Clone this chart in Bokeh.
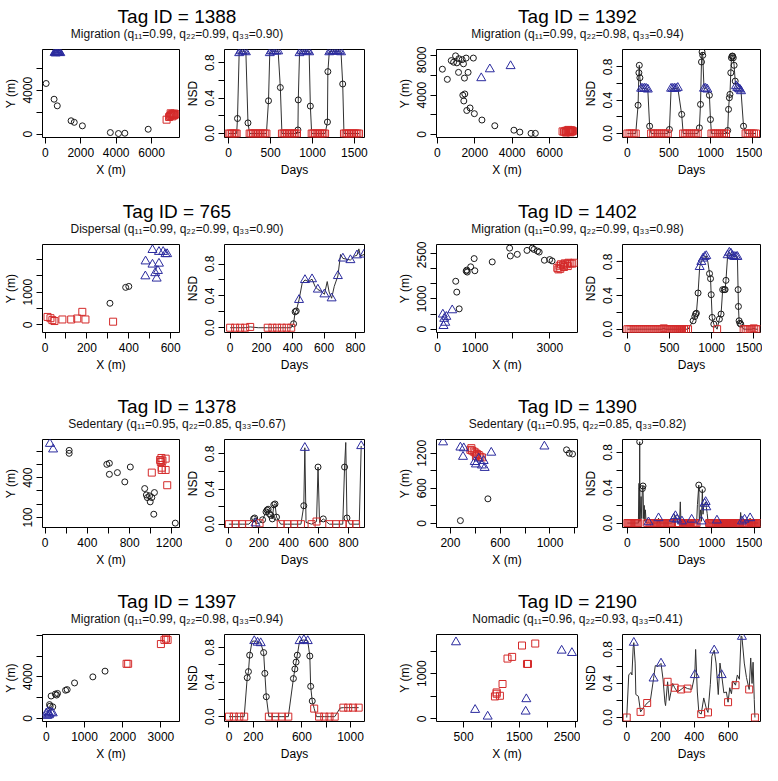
from bokeh.plotting import figure
from bokeh.layouts import column, row
from bokeh.models import Range1d, FixedTicker, NumeralTickFormatter
from bokeh.embed import file_html
from bokeh.resources import INLINE
from bokeh.core.properties import value

FONT = "Liberation Sans"
RED = "#d42a2a"
BLUE = "#2b2b9e"
INK = "#1a1a1a"
LINE = "#303030"

# ---------------- panel meta ----------------
TAGS = [1388, 1392, 765, 1402, 1378, 1390, 1397, 2190]
BEHAV = ["Migration", "Migration", "Dispersal", "Migration",
         "Sedentary", "Sedentary", "Migration", "Nomadic"]
Q11 = ["0.99", "0.99", "0.99", "0.99", "0.95", "0.95", "0.99", "0.96"]
Q22 = ["0.99", "0.98", "0.99", "0.99", "0.85", "0.85", "0.98", "0.93"]
Q33 = ["0.90", "0.94", "0.90", "0.98", "0.67", "0.82", "0.94", "0.41"]

# ---------------- location scatter data (x, y, class) ----------------
# class: c = intermediate (circle), s = cluster 1 (red square), t = cluster 2 (blue triangle)
LOC_X_1388 = [40, 490, 670, 1450, 1630, 2090, 3670, 4130, 4490, 5810,
              520, 560, 600, 630, 660, 690, 720, 760, 800, 840, 580, 700,
              6850, 6990, 7040, 7090, 7130, 7180, 7220, 7260, 7300, 7350, 7080, 7170, 7280]
LOC_Y_1388 = [4610, 3180, 2580, 1220, 1080, 760, 150, 60, 90, 450,
              7400, 7450, 7480, 7420, 7500, 7450, 7400, 7470, 7430, 7380, 7350, 7520,
              1320, 1560, 1650, 1720, 1800, 1850, 1780, 1700, 1750, 1820, 1900, 1620, 1880]
LOC_C_1388 = ["c"] * 10 + ["t"] * 12 + ["s"] * 13

LOC_X_1392 = [265, 530, 741, 865, 971, 1041, 1147, 1130, 1324, 1394, 1447, 1536, 1641, 1924,
              1359, 1465, 1412, 1571, 1747, 1977, 2383, 3071, 4095, 4413, 5013, 5242,
              2347, 2806, 3918,
              6700, 6780, 6850, 6900, 6950, 7000, 7050, 7100, 7150, 7200, 7250, 6880, 7020, 7120, 7220]
LOC_Y_1392 = [6636, 5600, 7510, 7348, 7995, 7283, 7704, 6312, 7607, 7186, 5729, 7769, 6312, 7769,
              3982, 4111, 3399, 2428, 2687, 2104, 1457, 874, 421, 227, 97, 97,
              5729, 6636, 6960,
              300, 260, 350, 220, 400, 300, 250, 350, 420, 280, 330, 180, 450, 200, 380]
LOC_C_1392 = ["c"] * 26 + ["t"] * 3 + ["s"] * 15

LOC_X_765 = [12, 26, 35, 45, 83, 125, 154, 178, 193, 325,
             310, 385, 400,
             480, 513, 544, 564, 575, 583, 479, 513, 544, 539, 526, 533]
LOC_Y_765 = [243, 204, 146, 117, 165, 165, 194, 398, 165, 97,
             660, 1146, 1175,
             1942, 2291, 2233, 2233, 2165, 2165, 1486, 1845, 1874, 1651, 1583, 1418]
LOC_C_765 = ["s"] * 10 + ["c"] * 3 + ["t"] * 12

LOC_X_1402 = [140, 177, 205, 158, 391, 233,
              577, 512, 484, 763, 791, 781, 884, 995, 977, 1460, 1925, 1944, 2130, 2390,
              2530, 2576, 2669, 2716, 2855, 2995, 3060,
              3200, 3260, 3300, 3350, 3400, 3450, 3500, 3550, 3600, 3650, 3280, 3380, 3480, 3230]
LOC_Y_1402 = [489, 348, 217, 109, 630, 413,
              674, 1228, 1587, 1924, 1891, 1957, 2065, 1935, 2337, 2228, 2685, 2424, 2478, 2609,
              2685, 2641, 2587, 2554, 2283, 2304, 2261,
              2030, 2100, 2150, 2120, 2180, 2150, 2200, 2180, 2170, 2200, 2000, 2060, 2090, 1980]
LOC_C_1402 = ["t"] * 6 + ["c"] * 21 + ["s"] * 14

LOC_X_1378 = [228, 228, 584, 608, 608, 684, 806, 754, 942, 967, 988, 958, 994, 1034, 1028, 1231, 1009,
              46, 76,
              1088, 1100, 1110, 1094, 1140, 1103, 1103, 1140, 1009, 1155]
LOC_Y_1378 = [605, 583, 500, 508, 425, 438, 480, 368, 318, 250, 263, 270, 218, 288, 125, 58, 250,
              655, 613,
              533, 548, 528, 518, 543, 475, 458, 458, 438, 343]
LOC_C_1378 = ["c"] * 17 + ["t"] * 2 + ["s"] * 10

LOC_X_1390 = [141, 280, 307, 301, 395, 405, 453, 475, 528, 955, 427, 467,
              360, 373, 387, 400, 413, 427, 440, 453, 368, 405,
              1133, 1155, 1181, 501, 280]
LOC_Y_1390 = [1389, 1300, 1288, 1141, 1052, 1011, 993, 951, 1212, 1318, 1111, 1070,
              1259, 1247, 1229, 1212, 1188, 1170, 1141, 1129, 1288, 1152,
              1259, 1200, 1188, 420, 47]
LOC_C_1390 = ["t"] * 12 + ["s"] * 10 + ["c"] * 5

LOC_X_1397 = [0, 42, 84, 126, 67, 168, 25,
              84, 101, 168, 126, 235, 294, 269, 504, 546, 739, 1218, 1537,
              2100, 2142, 2999, 3091, 3175, 3133]
LOC_Y_1397 = [492, 615, 400, 554, 308, 492, 246,
              1323, 1169, 1108, 2154, 2338, 2400, 2246, 2708, 2769, 3415, 4000, 4554,
              5262, 5262, 7169, 7569, 7569, 7692]
LOC_C_1397 = ["t"] * 7 + ["c"] * 12 + ["s"] * 6

LOC_X_2190 = [364, 707, 932, 1624, 1612, 2257, 2441,
              1547, 1784, 1287, 1370, 1636, 1654, 1198, 1092, 1062, 1092, 1151]
LOC_Y_2190 = [1697, 200, 52, 437, 163, 1512, 1460,
              1623, 1667, 1334, 1371, 1215, 1215, 771, 585, 496, 556, 511]
LOC_C_2190 = ["t"] * 7 + ["s"] * 11

# ---------------- NSD time series (day, nsd, class; "" = line only) ----------------
NSD_D_1388 = [0, 20, 40, 60, 80, 95, 105, 125, 145, 165, 185, 205, 230,
              250, 270, 290, 310, 330, 350, 370, 390, 410, 430, 450, 475,
              490, 510, 530, 550, 570, 590, 616,
              635, 655, 675, 695, 715, 735, 755, 775, 795, 815, 826, 830,
              845, 865, 885, 905, 925, 945, 960, 974,
              990, 1010, 1030, 1050, 1070, 1090, 1110, 1130, 1150, 1178, 1183,
              1200, 1220, 1240, 1260, 1280, 1300, 1320, 1340, 1360,
              1375, 1395, 1415, 1435, 1455, 1475, 1495, 1515, 1535, 1555]
NSD_V_1388 = [0, 0, 0, 0, 0, 0, 0.17, 0.91, 0.93, 0.93, 0.93, 0.92, 0.12,
              0, 0, 0, 0, 0, 0, 0, 0, 0, 0, 0, 0.37,
              0.91, 0.93, 0.93, 0.93, 0.93, 0.93, 0.52,
              0, 0, 0, 0, 0, 0, 0, 0, 0, 0, 0.04, 0.38,
              0.91, 0.93, 0.93, 0.93, 0.93, 0.93, 0.92, 0.31,
              0, 0, 0, 0, 0, 0, 0, 0, 0, 0.13, 0.70,
              0.92, 0.93, 0.93, 0.93, 0.93, 0.93, 0.93, 0.92, 0.56,
              0, 0, 0, 0, 0, 0, 0, 0, 0, 0]
NSD_C_1388 = (["s"] * 6 + ["c"] + ["t"] * 5 + ["c"] + ["s"] * 11 + ["c"] + ["t"] * 6 + ["c"]
              + ["s"] * 10 + ["c"] * 2 + ["t"] * 7 + ["c"] + ["s"] * 9 + ["c"] * 2
              + ["t"] * 8 + ["c"] + ["s"] * 10)

NSD_D_1392 = [0, 25, 50, 75, 100, 128, 138, 143, 150,
              165, 185, 205, 225, 245, 267,
              285, 310, 335, 360, 385, 410, 435, 460, 485, 505,
              525, 545, 565, 585, 605, 652,
              670, 695, 720, 745, 770, 795, 820, 845,
              865, 878, 890, 897, 905, 920, 940, 960, 985, 998,
              1010, 1035, 1060, 1085, 1110, 1135, 1160, 1185,
              1205, 1215, 1225, 1232, 1242, 1250, 1258, 1265, 1272, 1282, 1295,
              1305, 1320, 1335, 1350, 1365, 1395,
              1420, 1445, 1470, 1495, 1520, 1545]
NSD_V_1392 = [0, 0, 0, 0, 0, 0.34, 0.73, 0.82, 0.67,
              0.54, 0.54, 0.54, 0.54, 0.53, 0.088,
              0, 0, 0, 0, 0, 0, 0, 0, 0, 0.048,
              0.54, 0.54, 0.54, 0.54, 0.55, 0.23,
              0, 0, 0, 0, 0, 0, 0, 0,
              0.068, 0.35, 0.86, 0.98, 0.94, 0.54, 0.54, 0.53, 0.46, 0.168,
              0, 0, 0, 0, 0, 0, 0, 0,
              0.036, 0.29, 0.43, 0.47, 0.73, 0.91, 0.93, 0.93, 0.91, 0.82, 0.63,
              0.57, 0.55, 0.54, 0.53, 0.51, 0.088,
              0, 0, 0, 0, 0, 0]
NSD_C_1392 = (["s"] * 5 + ["c"] * 4 + ["t"] * 5 + ["c"] + ["s"] * 9 + ["c"] + ["t"] * 5 + ["c"]
              + ["s"] * 8 + ["c"] * 5 + ["t"] * 3 + ["c"] * 2 + ["s"] * 8 + ["c"] * 11
              + ["t"] * 5 + ["c"] + ["s"] * 6)

NSD_D_765 = [0, 32, 64, 96, 128, 180, 240, 270, 300, 330, 360, 390,
             405, 415, 422, 440, 460, 478, 500, 523, 542, 560, 580, 602, 620, 632,
             648, 665, 688, 705, 720, 745, 768, 795, 810, 822, 832, 855]
NSD_V_765 = [0, 0, 0, 0, 0.01, 0, 0, 0, 0, 0, 0, 0,
             0.05, 0.2, 0.21, 0.35, 0.56, 0.6, 0.58, 0.61, 0.52, 0.48, 0.46, 0.42, 0.58, 0.45,
             0.37, 0.52, 0.65, 0.92, 0.87, 0.86, 0.85, 0.9, 0.91, 0.99, 0.9, 0.92]
NSD_C_765 = (["s"] * 5 + [""] + ["s"] * 6 + ["c"] * 3
             + ["t", "", "t", "", "t", "", "t", "", "t", "", "", "t", "", "t", "", "t", "", "t", "", "t", "", "", "t"])

NSD_D_1402 = [0, 24, 48, 72, 96, 120, 144, 168, 192, 216, 240, 264, 288, 312, 336, 360,
              384, 408, 432, 456, 480, 504, 528, 552, 576, 600, 624, 648, 672, 696, 720,
              780, 800, 810, 819, 839, 858, 878, 897, 918, 936, 955,
              975, 987, 995, 1006, 1026, 1065,
              1092, 1112, 1131, 1150, 1160, 1170,
              1190, 1210, 1228, 1248, 1268, 1290, 1306,
              1314, 1318, 1326, 1336, 1346,
              1380, 1404, 1428, 1452, 1476, 1500, 1524, 1548]
NSD_V_1402 = [0, 0, 0, 0, 0, 0, 0, 0, 0, 0, 0, 0, 0, 0, 0, 0,
              0, 0, 0.01, 0, 0, 0, 0, 0, 0, 0, 0, 0, 0, 0, 0,
              0.1, 0.15, 0.18, 0.19, 0.43, 0.74, 0.8, 0.84, 0.86, 0.87, 0.8,
              0.66, 0.6, 0.41, 0.14, 0.06, 0,
              0.12, 0.18, 0.47, 0.47, 0.47, 0.58,
              0.88, 0.91, 0.9, 0.87, 0.86, 0.86, 0.86,
              0.47, 0.27, 0.1, 0.07, 0.06,
              0, 0, 0, 0, 0, 0.01, 0, 0]
NSD_C_1402 = (["s"] * 31 + ["c"] * 5 + ["t"] * 5 + [""] + ["c"] * 5 + ["s"] + ["c"] * 6
              + ["t"] * 7 + ["c"] * 5 + ["s"] * 8)

NSD_D_1378 = [0, 45, 89, 134, 165, 172, 178, 205, 225, 248, 255, 262, 270, 280, 290, 300, 308, 318,
              346, 391, 436, 481, 500, 507, 515, 552, 585, 595, 605, 630,
              670, 715, 760, 772, 780, 788, 805, 849, 870, 883]
NSD_V_1378 = [0, 0, 0, 0, 0.06, 0.07, 0.01, 0.01, 0.05, 0.14, 0.16, 0.17, 0.12, 0.1, 0.06, 0.22, 0.23, 0.08,
              0, 0, 0, 0, 0.21, 0.87, 0.02, 0, 0.03, 0.65, 0.02, 0.06,
              0, 0, 0, 0.65, 0.93, 0.07, 0, 0, 0, 0.89]
NSD_C_1378 = (["s"] * 4 + ["c"] * 2 + ["t"] + ["s"] + ["c"] * 10 + ["s"] * 4
              + ["c", "t", "", "s", "s", "c", "", "c"] + ["s"] * 3 + ["c", "", "c"] + ["s"] * 2 + ["", "t"])

NSD_D_1390 = ([0, 12, 24, 36, 48, 60, 72, 84, 96, 108, 120, 130]
              + [138, 141, 146, 150, 162, 170, 177, 185, 192, 200, 206, 213, 222]
              + [235, 250, 262, 274, 286, 298, 310, 322, 334, 346, 357, 369]
              + [381, 393, 405, 417, 429, 441, 453, 465, 477, 489, 501, 513, 525]
              + [540, 550, 560, 569, 578, 588, 600, 612, 618, 627, 634, 646]
              + [658, 670, 682, 694, 706, 718, 730, 742, 752, 761, 772, 784, 796, 808, 820]
              + [830, 846, 852, 866, 877, 888, 896, 905, 915, 927, 935, 945, 955]
              + [968, 980, 992, 1004, 1016, 1028, 1040, 1052, 1061]
              + [1072, 1084, 1096, 1108, 1120, 1132, 1144, 1156, 1168, 1180, 1192, 1204,
                 1216, 1228, 1240, 1252, 1264, 1276, 1288, 1300, 1312, 1324, 1334]
              + [1342, 1350, 1357, 1366, 1377, 1388, 1398, 1410, 1422, 1434, 1444, 1454,
                 1465, 1477, 1489, 1501, 1513, 1525, 1537, 1550])
NSD_V_1390 = ([0] * 12
              + [0.45, 0.02, 0.92, 0.02, 0.3, 0.05, 0.39, 0.42, 0.05, 0.2, 0.02, 0.15, 0.01]
              + [0, 0.01, 0, 0, 0, 0, 0, 0, 0, 0, 0, 0.056]
              + [0] * 13
              + [0.03, 0.05, 0.09, 0.08, 0.03, 0.04, 0, 0, 0.02, 0.24, 0.02, 0.02]
              + [0, 0, 0, 0, 0, 0, 0, 0, 0, 0.04, 0, 0, 0, 0, 0]
              + [0.21, 0.43, 0.03, 0.15, 0.02, 0.38, 0.1, 0.2, 0.22, 0.24, 0.18, 0.11, 0.02]
              + [0, 0, 0, 0, 0, 0, 0, 0, 0.03]
              + [0] * 23
              + [0.12, 0.02, 0.02, 0, 0, 0.04, 0, 0, 0, 0, 0, 0.056, 0, 0, 0, 0, 0, 0, 0, 0])
NSD_C_1390 = (["s"] * 12
              + ["", "", "c", "", "", "", "c", "c", "", "", "", "", ""]
              + ["s", "t", "s", "s", "s", "s", "s", "s", "s", "s", "s", "t"]
              + ["s"] * 13
              + ["", "t", "", "t", "", "t", "s", "s", "", "", "", "t"]
              + ["s"] * 9 + ["t"] + ["s"] * 5
              + ["", "c", "", "", "t", "c", "", "", "t", "t", "t", "", ""]
              + ["s"] * 8 + ["t"]
              + ["s"] * 23
              + ["", "", "t", "s", "s", "t", "s", "s", "s", "s", "s", "t", "s", "s", "s", "s", "s", "s", "s", "s"])

NSD_D_1397 = [0, 40, 85, 125, 150, 160, 170, 190, 208, 235, 261, 285, 295, 307,
              328, 381, 435, 488, 530, 542, 552, 562, 581, 616, 648, 665, 672, 685,
              701, 720, 741, 784, 827, 870, 915, 941, 981, 1021, 1067]
NSD_V_1397 = [0, 0, 0, 0, 0.45, 0.52, 0.71, 0.87, 0.874, 0.856, 0.85, 0.74, 0.5, 0.23,
              0, 0, 0, 0, 0.44, 0.55, 0.63, 0.71, 0.874, 0.886, 0.874, 0.7, 0.35, 0.18,
              0.093, 0, 0, 0, 0, 0, 0.1, 0.104, 0.104, 0.104, 0.104]
NSD_C_1397 = (["s"] * 4 + ["c"] * 3 + [""] + ["t"] * 3 + ["c"] * 3 + ["s"] * 4 + ["c"] * 4
              + ["t"] * 3 + ["c"] * 3 + ["s", ""] + ["s"] * 4 + [""] + ["s"] * 4)

NSD_D_2190 = [0, 12, 25, 31, 38, 42, 50, 54, 69, 82, 100, 121, 140, 159, 169, 185, 203, 215, 226, 230,
              242, 252, 261, 272, 284, 300, 322, 340, 360, 385, 403, 408, 418, 427, 441, 456, 472, 481,
              495, 504, 518, 529, 542, 552, 562, 575, 590, 600, 610, 620, 629, 644, 655, 667, 677, 682,
              696, 709, 725, 734, 742, 748, 755, 759]
NSD_V_2190 = [0, 0.5, 0.53, 0.5, 0.82, 0.88, 0.64, 0.27, 0.25, 0.066, 0.12, 0.17, 0.2, 0.46, 0.61, 0.6,
              0.636, 0.45, 0.18, 0.14,
              0.42, 0.2, 0.29, 0.4, 0.35, 0.3, 0.33, 0.36, 0.34, 0.33, 0.5, 0.8, 0.3, 0.06, 0.04, 0.23,
              0.1, 0.06,
              0.39, 0.72, 0.79, 0.64, 0.27, 0.64, 0.5, 0.29, 0.3, 0.18, 0.35, 0.28, 0.43, 0.38, 0.5, 0.45,
              0.96, 0.95,
              0.64, 0.47, 0.33, 0.7, 0.4, 0.65, 0.21, 0]
NSD_C_2190 = (["s", "", "", "", "", "t", "", "", "", "s", "", "s", "", "t", "", "", "t", "", "", ""]
              + ["s", "", "", "", "s", "", "s", "", "s", "", "t", "", "", "", "s", "", "", "s"]
              + ["", "", "t", "", "", "", "t", "", "", "s", "", "", "", "s", "", "", "", "t"]
              + ["", "", "s", "", "", "", "", "s"])

# ---------------- axes: limits and ticks (labelled / unlabelled) ----------------
LOC_XLIM = [(-165, 7580), (-50, 7500), (-12, 642), (-30, 3740),
            (-24, 1271), (88, 1221), (-100, 3486), (15, 2541)]
LOC_YLIM = [(-300, 7700), (-324, 8643), (-233, 2456), (-109, 2804),
            (25, 687), (-71, 1436), (-308, 8092), (-59, 1867)]
LOC_XT = [[0, 2000, 4000, 6000], [0, 2000, 4000, 6000], [0, 200, 400, 600], [0, 1000, 3000],
          [0, 400, 800, 1200], [200, 600, 1000], [0, 1000, 2000, 3000], [500, 1500, 2500]]
LOC_XM = [[], [], [100, 300, 500], [2000], [200, 600, 1000], [400, 800, 1200], [], [1000, 2000]]
LOC_YT = [[0, 4000], [0, 4000, 8000], [0, 1000], [0, 1000, 2500],
          [100, 400], [0, 600, 1200], [0, 4000], [0, 1000]]
LOC_YM = [[2000, 6000], [2000, 6000], [500, 1500, 2000], [500, 1500, 2000],
          [200, 300, 500, 600], [300, 900], [2000, 6000, 8000], [500, 1500]]

NSD_XLIM = [(-50, 1620), (-59, 1599), (-36, 858), (-58, 1580),
            (-29, 905), (-58, 1577), (-37, 1115), (-25, 792)]
NSD_YLIM = [(-0.045, 0.95), (-0.048, 1.01), (-0.06, 1.045), (-0.039, 1.006),
            (-0.038, 0.964), (-0.05, 0.946), (-0.056, 0.949), (-0.047, 0.976)]
NSD_XT = [[0, 500, 1000, 1500], [0, 500, 1000, 1500], [0, 200, 400, 600, 800], [0, 500, 1000, 1500],
          [0, 200, 400, 600, 800], [0, 500, 1000, 1500], [0, 200, 600, 1000], [0, 200, 400, 600]]
NSD_XM = [[], [], [], [], [], [], [400, 800], []]
NSD_YT = [0, 0.4, 0.8]
NSD_YM = [0.2, 0.6]

LOC = [(LOC_X_1388, LOC_Y_1388, LOC_C_1388), (LOC_X_1392, LOC_Y_1392, LOC_C_1392),
       (LOC_X_765, LOC_Y_765, LOC_C_765), (LOC_X_1402, LOC_Y_1402, LOC_C_1402),
       (LOC_X_1378, LOC_Y_1378, LOC_C_1378), (LOC_X_1390, LOC_Y_1390, LOC_C_1390),
       (LOC_X_1397, LOC_Y_1397, LOC_C_1397), (LOC_X_2190, LOC_Y_2190, LOC_C_2190)]
NSD = [(NSD_D_1388, NSD_V_1388, NSD_C_1388), (NSD_D_1392, NSD_V_1392, NSD_C_1392),
       (NSD_D_765, NSD_V_765, NSD_C_765), (NSD_D_1402, NSD_V_1402, NSD_C_1402),
       (NSD_D_1378, NSD_V_1378, NSD_C_1378), (NSD_D_1390, NSD_V_1390, NSD_C_1390),
       (NSD_D_1397, NSD_V_1397, NSD_C_1397), (NSD_D_2190, NSD_V_2190, NSD_C_2190)]

# ---------------- layout geometry ----------------
COL_W = [182, 202, 196, 182]
COL_BL = [39, 40, 52, 40]
COL_BR = [3, 20, 3, 2]
TITLE_H = [46, 46, 46, 46]
PLOT_BB = [58, 58, 58, 41]
FRAME_H = 88
TITLE_CX = [184.5, 585]

STYLE = {
    "c": dict(marker="circle", size=6, line_color=INK),
    "s": dict(marker="square", size=7, line_color=RED),
    "t": dict(marker="triangle", size=9, line_color=BLUE),
}


def style_axis(ax, major, minor, label):
    ax.ticker = FixedTicker(ticks=major, minor_ticks=minor)
    ax.axis_line_color = None
    ax.major_tick_in = 0
    ax.major_tick_out = 6
    ax.minor_tick_in = 0
    ax.minor_tick_out = 6
    ax.major_tick_line_color = "black"
    ax.minor_tick_line_color = "black"
    ax.major_label_text_font = FONT
    ax.major_label_text_font_size = "12px"
    ax.major_label_text_color = "black"
    ax.major_label_standoff = 4
    ax.axis_label = label
    ax.axis_label_text_font = FONT
    ax.axis_label_text_font_size = "12px"
    ax.axis_label_text_font_style = "normal"
    ax.axis_label_text_color = "black"
    ax.axis_label_standoff = 3


def base_fig(col, rowi, xr, yr):
    p = figure(width=COL_W[col], height=3 + FRAME_H + PLOT_BB[rowi],
               x_range=Range1d(*xr), y_range=Range1d(*yr),
               toolbar_location=None, tools="", output_backend="svg",
               min_border_left=COL_BL[col], min_border_right=COL_BR[col],
               min_border_top=3, min_border_bottom=PLOT_BB[rowi])
    p.grid.visible = False
    p.outline_line_color = "black"
    p.outline_line_width = 1
    p.outline_line_alpha = 1
    p.background_fill_color = "white"
    p.border_fill_color = "white"
    p.yaxis.major_label_orientation = "vertical"
    return p


def add_markers(p, xs, ys, cs):
    for key in ["c", "s", "t"]:
        sx = [x for x, c in zip(xs, cs) if c == key]
        sy = [y for y, c in zip(ys, cs) if c == key]
        if sx:
            st = STYLE[key]
            p.scatter(sx, sy, marker=st["marker"], size=st["size"], fill_color=None,
                      line_color=st["line_color"], line_width=1)


blocks = []
for r in range(4):
    tf = figure(width=762, height=TITLE_H[r], x_range=Range1d(8, 770), y_range=Range1d(0, TITLE_H[r]),
                toolbar_location=None, tools="", output_backend="svg", min_border=0,
                x_axis_location=None, y_axis_location=None, outline_line_color=None)
    tf.grid.visible = False
    idx = [2 * r, 2 * r + 1]
    tf.text(x=TITLE_CX, y=[30, 30],
            text=["Tag ID = %d" % TAGS[i] for i in idx],
            text_font=value(FONT), text_font_size="19px", text_align="center",
            text_baseline="alphabetic", text_color="black")
    tf.text(x=TITLE_CX, y=[13, 13],
            text=["%s (q\u2081\u2081=%s, q\u2082\u2082=%s, q\u2083\u2083=%s)" % (BEHAV[i], Q11[i], Q22[i], Q33[i])
                  for i in idx],
            text_font=value(FONT), text_font_size="12px", text_align="center",
            text_baseline="alphabetic", text_color="#111111")
    blocks.append(tf)

    figs = []
    for k, i in enumerate(idx):
        # location panel
        pl = base_fig(2 * k, r, LOC_XLIM[i], LOC_YLIM[i])
        style_axis(pl.xaxis[0], LOC_XT[i], LOC_XM[i], "X (m)")
        style_axis(pl.yaxis[0], LOC_YT[i], LOC_YM[i], "Y (m)")
        xs, ys, cs = LOC[i]
        add_markers(pl, xs, ys, cs)
        figs.append(pl)
        # NSD panel
        pn = base_fig(2 * k + 1, r, NSD_XLIM[i], NSD_YLIM[i])
        style_axis(pn.xaxis[0], NSD_XT[i], NSD_XM[i], "Days")
        style_axis(pn.yaxis[0], NSD_YT, NSD_YM, "NSD")
        pn.yaxis[0].formatter = NumeralTickFormatter(format="0.0")
        ds, vs, cs = NSD[i]
        pn.line(ds, vs, line_color=LINE, line_width=1)
        add_markers(pn, ds, vs, cs)
        figs.append(pn)
    blocks.append(row(*figs, spacing=0))

layout = column(*blocks, spacing=0)

with open("out.html", "w") as f:
    f.write(file_html(layout, INLINE, title="NSD panels"))
